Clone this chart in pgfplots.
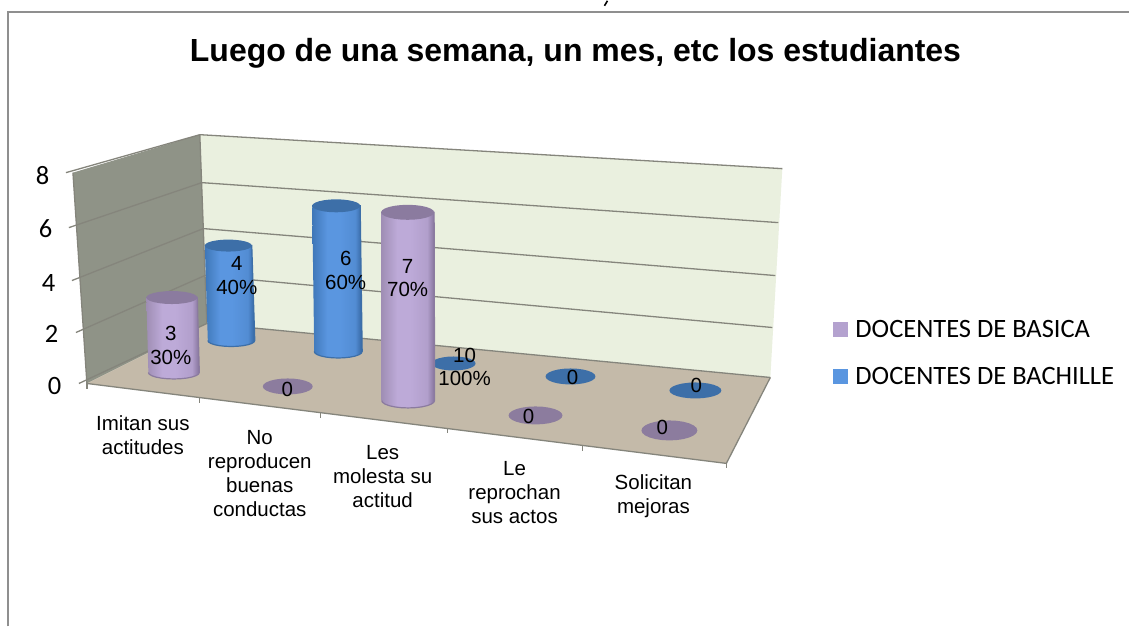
\documentclass[border=0pt]{standalone}
\usepackage{fontspec}
\setmainfont{Liberation Sans}
\newfontfamily\calfont{Carlito}
\usepackage{pgfplots}
\usepackage{pgfplotstable}
\pgfplotsset{compat=1.18}
\definecolor{pEdgeL}{HTML}{9F8EB4}
\definecolor{pMid}{HTML}{BDAAD8}
\definecolor{pEdgeR}{HTML}{84729A}
\definecolor{pTop}{HTML}{8B7B9F}
\definecolor{pFlat}{HTML}{8C7C9E}
\definecolor{bEdgeL}{HTML}{3F77B8}
\definecolor{bMid}{HTML}{5A96E0}
\definecolor{bEdgeR}{HTML}{34659F}
\definecolor{bTop}{HTML}{3D6FA8}
\definecolor{wallB}{HTML}{EAF0DF}
\definecolor{wallL}{HTML}{8F9387}
\definecolor{floorc}{HTML}{C4BAA9}
\definecolor{gridc}{HTML}{85857C}
\definecolor{framec}{HTML}{8F8F8F}
\pgfdeclarehorizontalshading{pcyl}{100bp}{color(0bp)=(pEdgeL);color(25bp)=(pEdgeL);color(40bp)=(pMid);color(52bp)=(pMid);color(68bp)=(pMid!80!pEdgeR);color(75bp)=(pEdgeR);color(100bp)=(pEdgeR)}
\pgfdeclarehorizontalshading{bcyl}{100bp}{color(0bp)=(bEdgeL);color(25bp)=(bEdgeL);color(40bp)=(bMid);color(52bp)=(bMid);color(68bp)=(bMid!80!bEdgeR);color(75bp)=(bEdgeR);color(100bp)=(bEdgeR)}
% unit outline of a cylinder body: u across, k=1 at the top, e ellipse offset
\pgfplotstableread{
u k e
-1 1 0
1 1 0
1 0 0
0.966 0 0.259
0.866 0 0.5
0.707 0 0.707
0.5 0 0.866
0.259 0 0.966
0 0 1
-0.259 0 0.966
-0.5 0 0.866
-0.707 0 0.707
-0.866 0 0.5
-0.966 0 0.259
-1 0 0
}\bodyoutline
\pgfplotstableread{
u e
1 0
0.966 0.259
0.866 0.5
0.707 0.707
0.5 0.866
0.259 0.966
0 1
-0.259 0.966
-0.5 0.866
-0.707 0.707
-0.866 0.5
-0.966 0.259
-1 0
-0.966 -0.259
-0.866 -0.5
-0.707 -0.707
-0.5 -0.866
-0.259 -0.966
0 -1
0.259 -0.966
0.5 -0.866
0.707 -0.707
0.866 -0.5
0.966 -0.259
}\ellipseoutline
% #1 xc base, #2 y base, #3 value, #4 px per unit, #5 rx, #6 ry, #7 x shift of top, #8 shading, #9 top colour
\newcommand\cylbar[9]{%
\addplot[draw=#9,line width=1.2pt,shade,shading=#8] table[x expr=#1+\thisrow{u}*#5+\thisrow{k}*#7,y expr=#2+\thisrow{e}*#6-\thisrow{k}*#3*#4]{\bodyoutline};
\addplot[draw=none,fill=#9] table[x expr=#1+#7+\thisrow{u}*#5,y expr=#2-#3*#4+\thisrow{e}*#6]{\ellipseoutline};
}
\newcommand\flatbar[5]{% xc, y, rx, ry, colour
\addplot[draw=none,fill=#5] table[x expr=#1+\thisrow{u}*#3,y expr=#2+\thisrow{e}*#4]{\ellipseoutline};
}
\newcommand\seg[4]{\addplot[gridc,line width=1.3pt] coordinates {(#1,#2) (#3,#4)};}
\begin{document}
\begin{tikzpicture}[
  lab/.style={font=\fontsize{20.5}{23.5}\selectfont,align=center,inner sep=0pt,text=black},
  catl/.style={font=\fontsize{20.5}{24}\selectfont,align=center,inner sep=0pt,text=black},
  num/.style={font=\calfont\fontsize{26.5}{28}\selectfont,inner sep=0pt,anchor=east,text=black},
  leg/.style={font=\calfont\fontsize{26.5}{30}\selectfont,inner sep=0pt,anchor=west,text=black},
]
\begin{axis}[
  scale only axis,width=1130pt,height=626pt,
  xmin=0,xmax=1130,ymin=0,ymax=626,y dir=reverse,
  hide axis,clip=false,
]
\addplot[draw=none,fill=white] coordinates {(0,0) (1130,0) (1130,626) (0,626)};
% frame
\addplot[framec,line width=2pt] coordinates {(8.5,626) (8.5,11) (1130,11)};
\addplot[black,line width=1.6pt] coordinates {(608,0) (605,5)};
% walls and floor
\addplot[draw=none,fill=wallB] coordinates {(200,134) (783,168) (771,377) (207,323)};
\addplot[draw=none,fill=wallL] coordinates {(73,172) (200,134) (207,323) (87,383)};
\addplot[draw=none,fill=floorc] coordinates {(207,323) (771,377) (727,463) (87,383)};
% grid on back wall and side wall
\seg{200}{134}{783}{168}
\seg{202}{182}{779}{222}
\seg{203.5}{228}{776}{275}
\seg{205}{275}{773}{327}
\seg{207}{323}{771}{377}
\seg{66}{172}{200}{134}
\seg{69}{227}{202}{182}
\seg{72}{280}{203.5}{228}
\seg{76}{332}{205}{275}
\seg{79}{383}{207}{323}
\seg{73}{172}{87}{383}
\seg{200}{134}{207}{323}
\seg{87}{383}{727}{463}
\seg{771}{377}{727}{463}
\seg{87}{383}{87}{389}
\seg{200}{398}{200}{403}
\seg{321}{412}{321}{418}
\seg{448}{428}{448}{433}
\seg{583}{445}{583}{451}
\seg{727}{463}{727}{468}
% series: DOCENTES DE BACHILLE
\cylbar{231.5}{340}{4}{23.75}{23.5}{6}{-3}{bcyl}{bTop}
\cylbar{338.5}{351}{6}{24.3}{24}{6.5}{-2}{bcyl}{bTop}
\flatbar{454}{363}{22}{7}{bTop}
\flatbar{571}{376}{25}{8}{bTop}
\flatbar{696}{390}{26}{8}{bTop}
% series: DOCENTES DE BASICA
\cylbar{174}{372}{3}{25}{25.5}{6.5}{-2}{pcyl}{pTop}
\flatbar{288}{386}{25}{8}{pFlat}
\cylbar{408.5}{400}{7}{26.9}{26.5}{7.5}{-0.5}{pcyl}{pTop}
\flatbar{536}{415}{27}{9}{pFlat}
\flatbar{670}{430}{28}{10}{pFlat}
% data labels
\node[lab] at (axis cs:171,345) {3\\30\%};
\node[lab] at (axis cs:287.5,389) {0};
\node[lab] at (axis cs:237,275) {4\\40\%};
\node[lab] at (axis cs:346,270) {6\\60\%};
\node[lab] at (axis cs:408,277.5) {7\\70\%};
\node[lab] at (axis cs:465,366.5) {10\\100\%};
\node[lab] at (axis cs:529,416) {0};
\node[lab] at (axis cs:573,377) {0};
\node[lab] at (axis cs:663,427) {0};
\node[lab] at (axis cs:697,385) {0};
% y tick labels
\node[num] at (axis cs:49.5,175) {8};
\node[num] at (axis cs:52.5,228) {6};
\node[num] at (axis cs:55.5,282) {4};
\node[num] at (axis cs:58.5,333) {2};
\node[num] at (axis cs:61.5,386) {0};
% category labels
\node[catl] at (axis cs:143,434.5) {Imitan sus\\actitudes};
\node[catl] at (axis cs:260,473.5) {No\\reproducen\\buenas\\conductas};
\node[catl] at (axis cs:383,476) {Les\\molesta su\\actitud};
\node[catl] at (axis cs:515,492) {Le\\reprochan\\sus actos};
\node[catl] at (axis cs:654,495.5) {Solicitan\\mejoras};
% title
\node[font=\bfseries\fontsize{32}{36}\selectfont,inner sep=0pt,anchor=base,text=black] at (axis cs:576,61) {Luego de una semana, un mes, etc los estudiantes};
% legend
\addplot[draw=none,fill=pMid!85!pEdgeR] coordinates {(834,321) (849,321) (849,336) (834,336)};
\addplot[draw=none,fill=bMid] coordinates {(834,369) (849,369) (849,384) (834,384)};
\node[leg] at (axis cs:856,328) {DOCENTES DE BASICA};
\node[leg] at (axis cs:856,376) {DOCENTES DE BACHILLE};
\end{axis}
\end{tikzpicture}
\end{document}
